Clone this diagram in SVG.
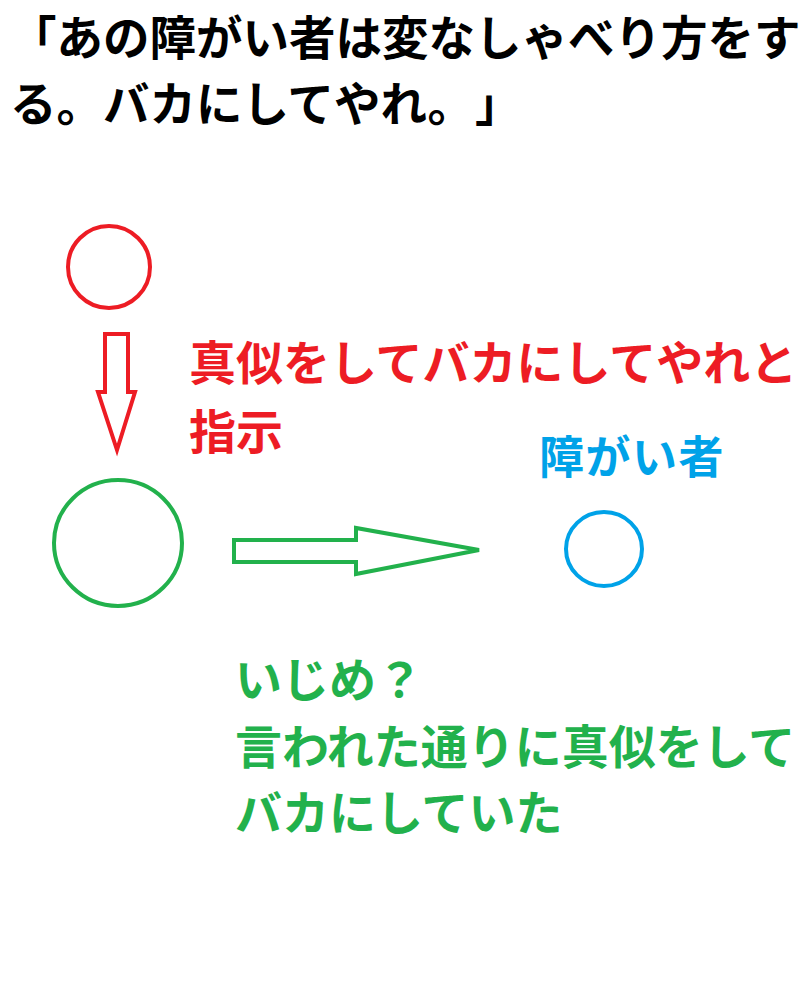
<svg xmlns="http://www.w3.org/2000/svg" width="800" height="1000" viewBox="0 0 800 1000">
<style>
text{font-family:"Noto Sans CJK JP","Noto Sans CJK SC",sans-serif;font-weight:bold;text-spacing-trim:space-all;}
.t{font-size:46.5px;fill:#000;}
.r{font-size:47px;fill:#ED1C24;}
.g{font-size:47px;fill:#22B14C;}
.b{font-size:45px;fill:#00A2E8;letter-spacing:1.5px;}
.shape{fill:none;stroke-width:4;stroke-linejoin:miter;}
</style>
<rect width="800" height="1000" fill="#fff"/>
<g id="title">
<text class="t" x="10" y="55">「あの障がい者は変なしゃべり方をす</text>
<text class="t" x="10" y="121">る。バカにしてやれ。</text>
<text class="t" x="475" y="121">」</text>
</g>
<g id="instructor">
<ellipse class="shape" stroke="#ED1C24" cx="109" cy="267" rx="41" ry="41"/>
</g>
<g id="follower">
<ellipse class="shape" stroke="#22B14C" cx="118" cy="543" rx="64" ry="63"/>
</g>
<g id="target">
<ellipse class="shape" stroke="#00A2E8" cx="604" cy="549" rx="38" ry="37"/>
<text class="b" x="539" y="474">障がい者</text>
</g>
<g id="connectors">
<polygon class="shape" stroke="#ED1C24" points="105,334 128,334 128,392 135,392 117,450 98,392 105,392"/>
<polygon class="shape" stroke="#22B14C" points="234,540 356,540 356,528 479,550 356,574 356,562 234,562"/>
</g>
<g id="instruction-label">
<text class="r" x="189" y="380">真似をしてバカにしてやれと</text>
<text class="r" x="189" y="449">指示</text>
</g>
<g id="bullying-label">
<text class="g" x="235" y="697">いじめ？</text>
<text class="g" x="235" y="764">言われた通りに真似をして</text>
<text class="g" x="235" y="830">バカにしていた</text>
</g>
</svg>
